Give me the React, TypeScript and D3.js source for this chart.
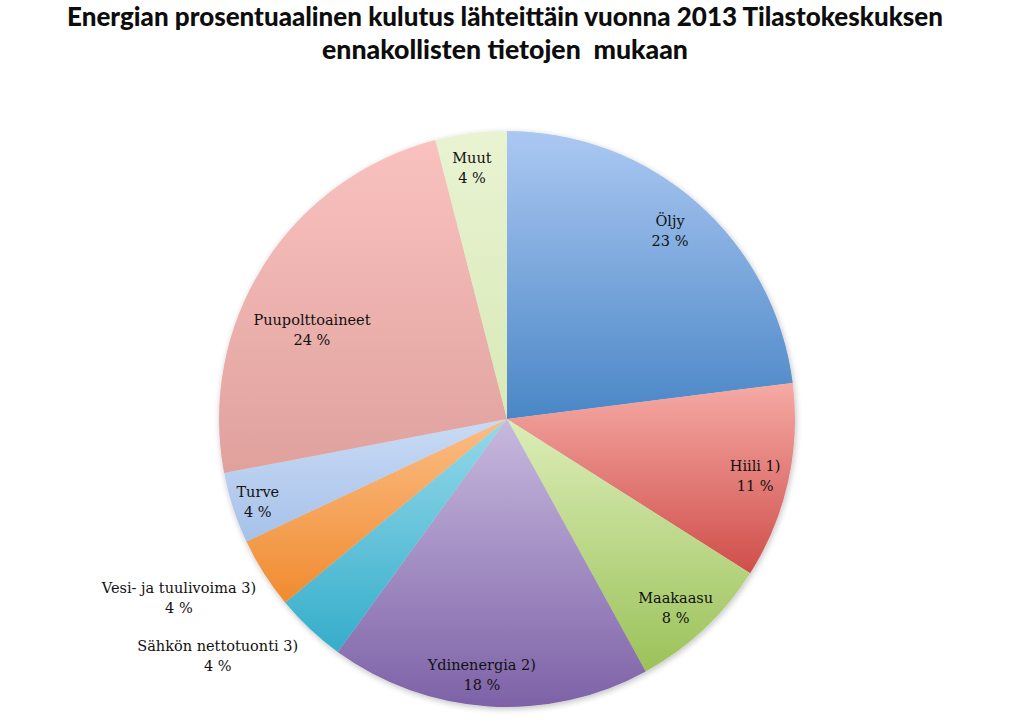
import React from 'react';
import * as d3 from 'd3';

const categories = [
  'Öljy',
  'Hiili 1)',
  'Maakaasu',
  'Ydinenergia 2)',
  'Sähkön nettotuonti 3)',
  'Vesi- ja tuulivoima 3)',
  'Turve',
  'Puupolttoaineet',
  'Muut',
];
const values = [23, 11, 8, 18, 4, 4, 4, 24, 4];
const topColors = ['#abc8f2', '#f6aaa5', '#dcedb8', '#c8b9de', '#95d9ea', '#fbbd84', '#c9dbf5', '#f9c2bf', '#e9f3d2'];
const bottomColors = ['#4a86c6', '#cf4e4a', '#9bc259', '#7d62a7', '#35adca', '#f08b30', '#a6c1e9', '#e0a19d', '#d8e9b6'];

// label placement (layout): radius factor and angle shift (deg) relative to slice bisector
const labelRadius = [0.861, 0.885, 0.882, 0.896, 1.3, 1.3, 0.913, 0.743, 0.875];
const labelShift = [-0.3, 0.6, 1.6, 2, 7.4, 3.6, -0.6, -8.1, -0.8];

const titleLines = [
  'Energian prosentuaalinen kulutus lähteittäin vuonna 2013 Tilastokeskuksen',
  'ennakollisten tietojen  mukaan',
];

export default function App() {
  const W = 1024;
  const H = 728;
  const cx = 507;
  const cy = 419;
  const R = 288;

  const pie = d3.pie<number>().sort(null).value((d) => d).startAngle(0).endAngle(2 * Math.PI);
  const arcs = pie(values);
  const arc = d3.arc<d3.PieArcDatum<number>>().innerRadius(0).outerRadius(R);

  return (
    <svg width={W} height={H} style={{ position: 'absolute', left: 0, top: 0, background: '#fff' }}>
      <defs>
        {arcs.map((a, i) => (
          <linearGradient key={i} id={`g${i}`} x1="0" y1="0" x2="0" y2="1">
            <stop offset="0%" stopColor={topColors[i]} />
            <stop offset="100%" stopColor={bottomColors[i]} />
          </linearGradient>
        ))}
        <filter id="sh" x="-10%" y="-10%" width="120%" height="120%">
          <feGaussianBlur in="SourceAlpha" stdDeviation="3" />
          <feOffset dx="1" dy="2" result="b" />
          <feComponentTransfer>
            <feFuncA type="linear" slope="0.25" />
          </feComponentTransfer>
          <feMerge>
            <feMergeNode />
            <feMergeNode in="SourceGraphic" />
          </feMerge>
        </filter>
      </defs>
      <g fontFamily="Lato, 'Open Sans', sans-serif" fontWeight={900} fill="#0d0d0d" textAnchor="middle">
        <text x={505} y={26} fontSize={26} textLength={876} lengthAdjust="spacingAndGlyphs">
          {titleLines[0]}
        </text>
        <text x={505} y={59} fontSize={26} textLength={366} lengthAdjust="spacingAndGlyphs" style={{ whiteSpace: 'pre' }}>
          {titleLines[1]}
        </text>
      </g>
      <g transform={`translate(${cx},${cy})`}>
        <g filter="url(#sh)">
          {arcs.map((a, i) => (
            <path key={i} d={arc(a) || ''} fill={`url(#g${i})`} />
          ))}
        </g>
        <g fontFamily="'DejaVu Serif', serif" fontSize={14.5} fill="#111" textAnchor="middle">
          {arcs.map((a, i) => {
            const mid = (a.startAngle + a.endAngle) / 2 + (labelShift[i] * Math.PI) / 180;
            const r = R * labelRadius[i];
            const x = r * Math.sin(mid);
            const y = -r * Math.cos(mid);
            return (
              <g key={i}>
                <text x={x} y={y - 6}>{categories[i]}</text>
                <text x={x} y={y + 14}>{`${values[i]} %`}</text>
              </g>
            );
          })}
        </g>
      </g>
    </svg>
  );
}
